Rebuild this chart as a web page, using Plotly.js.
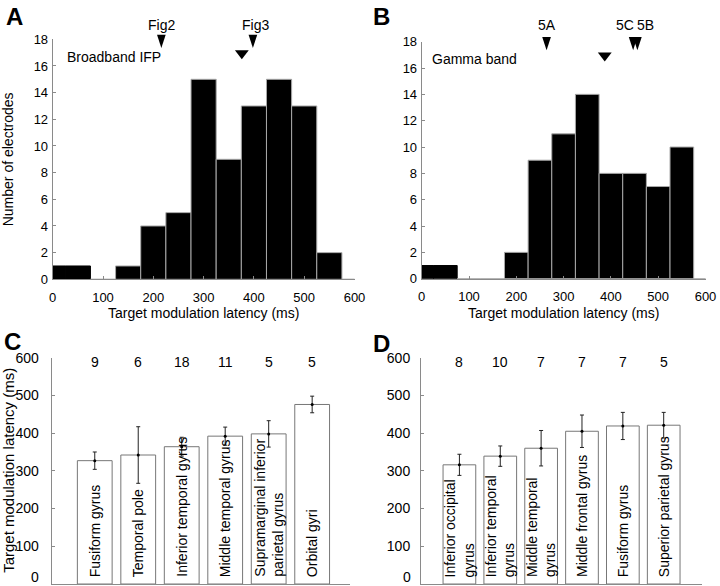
<!DOCTYPE html>
<html><head><meta charset="utf-8">
<script src="https://cdn.plot.ly/plotly-3.0.1.min.js"></script>
<style>html,body{margin:0;padding:0;background:#fff}#chart{width:720px;height:586px}</style>
</head><body><div id="chart"></div>
<script>
// ---- Data ----
const binCenters = [0, 50, 100, 150, 200, 250, 300, 350, 400, 450, 500, 550, 600];
const binWidth = 50;
const countsBroadband = [1, 1, 0, 1, 4, 5, 15, 9, 13, 15, 13, 2, 0];
const countsGamma = [1, 1, 0, 0, 2, 9, 11, 14, 8, 8, 7, 10, 0];
const meanBroadband = 376;
const meanGamma = 387;
const exampleLabelsBroadband = ['Fig2', 'Fig3'];
const exampleLatBroadband = [216, 398];
const exampleLabelsGamma = ['5A', '5C', '5B'];
const exampleLatGamma = [264, 447, 456];

const regionsC = ['Fusiform gyrus', 'Temporal pole', 'Inferior temporal gyrus', 'Middle temporal gyrus', 'Supramarginal inferior<br>parietal gyrus', 'Orbital gyri'];
const latencyC = [327, 342, 364, 392, 398, 476];
const semC = [23, 75, 25, 24, 35, 22];
const nC = [9, 6, 18, 11, 5, 5];

const regionsD = ['Inferior occipital<br>gyrus', 'Inferior temporal<br>gyrus', 'Middle temporal<br>gyrus', 'Middle frontal gyrus', 'Fusiform gyrus', 'Superior parietal gyrus'];
const latencyD = [316, 339, 360, 405, 419, 421];
const semD = [28, 27, 47, 43, 36, 34];
const nD = [8, 10, 7, 7, 7, 5];

const latencyTicks = [0, 100, 200, 300, 400, 500, 600];

// ---- Styles ----
const FONT = 'Liberation Sans, Arial, Helvetica, sans-serif';
const AX = '#8a8a8a';
const EDGE = '#a8a8a8';
const labelShiftA = [0, 3];
const labelShiftB = [0, -8, 8];

function histTrace(counts, xa, ya) {
  // first two bins are drawn as one continuous block in the reference (no inner edge)
  const edges = binCenters.map((c, i) => (i < 2 ? '#000' : EDGE));
  return {type: 'bar', x: binCenters, y: counts, width: binWidth, xaxis: xa, yaxis: ya,
    marker: {color: '#000', line: {color: edges, width: 1}}, hoverinfo: 'x+y', showlegend: false};
}
function meanTrace(m, xa, ya) {
  return {type: 'scatter', mode: 'markers', x: [m], y: [16.95], xaxis: xa, yaxis: ya, cliponaxis: false,
    marker: {symbol: 'triangle-down', size: 12, color: '#000'}, showlegend: false};
}
function arrowTrace(lats, xa, ya) {
  return {type: 'scatter', mode: 'markers', x: lats, y: lats.map(() => 17.35), xaxis: xa, yaxis: ya, cliponaxis: false,
    marker: {symbol: 'arrow', angle: 180, size: 14, color: '#000', line: {width: 0}}, showlegend: false};
}
function barTrace(cats, vals, xa, ya) {
  return {type: 'bar', x: cats, y: vals, width: 0.8, xaxis: xa, yaxis: ya,
    marker: {color: '#fff', line: {color: '#777', width: 1}}, showlegend: false};
}
function errTrace(cats, vals, err, xa, ya) {
  return {type: 'scatter', mode: 'markers', x: cats, y: vals, xaxis: xa, yaxis: ya,
    marker: {size: 3, color: '#000'},
    error_y: {type: 'data', array: err, visible: true, color: '#222', thickness: 1, width: 2},
    showlegend: false};
}

const data = [
  histTrace(countsBroadband, 'x', 'y'),
  meanTrace(meanBroadband, 'x', 'y'),
  arrowTrace(exampleLatBroadband, 'x', 'y'),
  histTrace(countsGamma, 'x2', 'y2'),
  meanTrace(meanGamma, 'x2', 'y2'),
  arrowTrace(exampleLatGamma, 'x2', 'y2'),
  barTrace(regionsC, latencyC, 'x3', 'y3'),
  errTrace(regionsC, latencyC, semC, 'x3', 'y3'),
  barTrace(regionsD, latencyD, 'x4', 'y4'),
  errTrace(regionsD, latencyD, semD, 'x4', 'y4')
];

function histX(domain) {
  return {domain: domain, range: [0, 600], dtick: 100, tick0: 0, ticks: 'inside', ticklen: 3,
    tickcolor: AX, showline: true, linecolor: AX, linewidth: 1, showgrid: false, zeroline: false,
    tickfont: {family: FONT, size: 13, color: '#000'}, ticklabelstandoff: 6, fixedrange: true};
}
function histY(domain, anchor) {
  return {domain: domain, anchor: anchor, range: [0, 18], dtick: 2, tick0: 0, ticks: 'inside', ticklen: 3,
    tickcolor: AX, showline: true, linecolor: AX, linewidth: 1, showgrid: false, zeroline: false,
    tickfont: {family: FONT, size: 13, color: '#000'}, ticklabelstandoff: 1, fixedrange: true};
}
function catX(domain, range, anchor) {
  return {domain: domain, range: range, anchor: anchor, showticklabels: false, ticks: '', showline: true,
    linecolor: AX, linewidth: 1, showgrid: false, zeroline: false, fixedrange: true};
}
function latY(domain, anchor, standoff) {
  // the 0 label sits on the image's bottom edge, so it is drawn as an annotation nudged upward
  return {domain: domain, anchor: anchor, range: [0, 600], tickmode: 'array',
    tickvals: latencyTicks.slice(1), ticktext: latencyTicks.slice(1).map(String),
    ticks: 'inside', ticklen: 3,
    tickcolor: AX, showline: true, linecolor: AX, linewidth: 1, showgrid: false, zeroline: false,
    tickfont: {family: FONT, size: 14, color: '#000'}, ticklabelstandoff: standoff, fixedrange: true};
}

const annotations = [];
function txt(o) { annotations.push(Object.assign({showarrow: false, font: {family: FONT, size: 14, color: '#000'}}, o)); }

// panel letters
[['A', 14, 1], ['B', 381, 1], ['C', 12, 326], ['D', 381, 328]].forEach(([t, px, py]) => {
  txt({text: '<b>' + t + '</b>', xref: 'paper', yref: 'paper', x: px / 720, y: 1 - py / 586,
    xanchor: 'center', yanchor: 'top', font: {family: FONT, size: 24, color: '#000'}});
});

// axis titles
txt({text: 'Target modulation latency (ms)', xref: 'x domain', yref: 'paper', x: 0.5, y: 1 - 313 / 586, xanchor: 'center', yanchor: 'middle'});
txt({text: 'Target modulation latency (ms)', xref: 'x2 domain', yref: 'paper', x: 0.5, y: 1 - 313 / 586, xanchor: 'center', yanchor: 'middle'});
txt({text: 'Number of electrodes', xref: 'paper', yref: 'y domain', x: 8 / 720, y: 0.5, textangle: -90, xanchor: 'center', yanchor: 'middle'});
txt({text: 'Target modulation latency (ms)', xref: 'paper', yref: 'y3 domain', x: 9 / 720, y: 0.5, textangle: -90, xanchor: 'center', yanchor: 'middle', font: {family: FONT, size: 15, color: '#000'}});

// zero labels of the latency axes
txt({text: String(latencyTicks[0]), xref: 'paper', yref: 'y3', x: 41 / 720, y: 0, yshift: 7, xanchor: 'right', yanchor: 'middle'});
txt({text: String(latencyTicks[0]), xref: 'paper', yref: 'y4', x: 413 / 720, y: 0, yshift: 7, xanchor: 'right', yanchor: 'middle'});

// in-panel labels
txt({text: 'Broadband IFP', xref: 'x', yref: 'y', x: 24, y: 16.7, xanchor: 'left', yanchor: 'middle'});
txt({text: 'Gamma band', xref: 'x2', yref: 'y2', x: 17, y: 16.7, xanchor: 'left', yanchor: 'middle'});

// example labels above arrows
function exampleLabels(labels, lats, xr, shifts) {
  lats.forEach((v, i) => {
    txt({text: labels[i], xref: xr, yref: 'paper', x: v, y: 1 - 25 / 586, xshift: shifts[i], xanchor: 'center', yanchor: 'middle'});
  });
}
exampleLabels(exampleLabelsBroadband, exampleLatBroadband, 'x', labelShiftA);
exampleLabels(exampleLabelsGamma, exampleLatGamma, 'x2', labelShiftB);

// bar labels and counts
function barLabels(cats, counts, xr, yr) {
  cats.forEach((c, i) => {
    txt({text: c, xref: xr, yref: yr, x: c, y: 0, yshift: 5, textangle: -90, align: 'left',
      xanchor: 'center', yanchor: 'bottom'});
    txt({text: String(counts[i]), xref: xr, yref: yr, x: c, y: 588, xanchor: 'center', yanchor: 'middle'});
  });
}
barLabels(regionsC, nC, 'x3', 'y3');
barLabels(regionsD, nD, 'x4', 'y4');

const layout = {
  width: 720, height: 586, margin: {l: 0, r: 0, t: 0, b: 0},
  paper_bgcolor: '#fff', plot_bgcolor: 'rgba(0,0,0,0)',
  font: {family: FONT, size: 13, color: '#000'},
  showlegend: false, barmode: 'overlay',
  xaxis: Object.assign(histX([52.7 / 720, 354.5 / 720]), {anchor: 'y'}),
  yaxis: histY([1 - 279.3 / 586, 1 - 39.3 / 586], 'x'),
  xaxis2: Object.assign(histX([421.7 / 720, 705.5 / 720]), {anchor: 'y2'}),
  yaxis2: histY([1 - 278.7 / 586, 1 - 41.7 / 586], 'x2'),
  xaxis3: catX([51.7 / 720, 350 / 720], [-0.99, 5.87], 'y3'),
  yaxis3: latY([1 - 584 / 586, 1 - 357.7 / 586], 'x3', 9),
  xaxis4: catX([421 / 720, 701.7 / 720], [-0.94, 5.93], 'y4'),
  yaxis4: latY([1 - 584 / 586, 1 - 357.7 / 586], 'x4', 7),
  annotations: annotations
};

Plotly.newPlot('chart', data, layout, {displayModeBar: false, staticPlot: true});
</script>
</body></html>
